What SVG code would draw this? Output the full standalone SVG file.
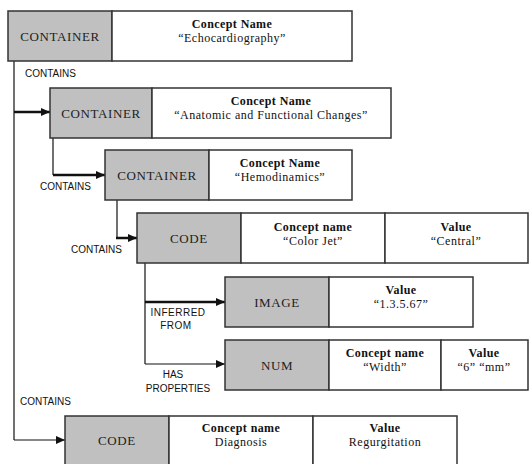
<svg xmlns="http://www.w3.org/2000/svg" width="530" height="464" viewBox="0 0 530 464">
<style>
.g{fill:#c0c0c0;stroke:#333;stroke-width:1.5}
.w{fill:#fff;stroke:#333;stroke-width:1.5}
.t{font-family:"Liberation Serif",serif;font-size:13px;fill:#222;text-anchor:middle;letter-spacing:0.6px}
.h{font-family:"Liberation Serif",serif;font-size:12px;font-weight:bold;fill:#111;text-anchor:middle;letter-spacing:0.4px}
.v{font-family:"Liberation Serif",serif;font-size:12px;fill:#111;text-anchor:middle;letter-spacing:0.5px}
.l{font-family:"Liberation Sans",Arial,sans-serif;font-size:10px;fill:#111}
.c{fill:none;stroke:#111;stroke-width:1.2}
.k{fill:none;stroke:#111;stroke-width:2.5}
</style>
<defs>
<marker id="ah" markerWidth="9" markerHeight="8" refX="9" refY="4" orient="auto" markerUnits="userSpaceOnUse">
<path d="M0,0 L9,4 L0,8 Z" fill="#111"/>
</marker>
</defs>
<g id="connectors">
<path class="c" d="M14,61 V440"/>
<path class="k" d="M14,112 H50" marker-end="url(#ah)"/>
<path class="c" d="M14,440 H65" marker-end="url(#ah)"/>
<path class="c" d="M53,138 V175"/>
<path class="k" d="M53,175 H105" marker-end="url(#ah)"/>
<path class="c" d="M117,200 V238"/>
<path class="k" d="M116,238 H137" marker-end="url(#ah)"/>
<path class="c" d="M145,263 V364"/>
<path class="k" d="M145,302 H225" marker-end="url(#ah)"/>
<path class="c" d="M145,364 H225" marker-end="url(#ah)"/>
<text class="l" x="25" y="77">CONTAINS</text>
<text class="l" x="40" y="190">CONTAINS</text>
<text class="l" x="71" y="253">CONTAINS</text>
<text class="l" x="178" y="316" text-anchor="middle" letter-spacing="0.5">INFERRED</text>
<text class="l" x="176" y="329" text-anchor="middle" letter-spacing="0.5">FROM</text>
<text class="l" x="173" y="378" text-anchor="middle">HAS</text>
<text class="l" x="178" y="392" text-anchor="middle">PROPERTIES</text>
<text class="l" x="20" y="405">CONTAINS</text>
</g>
<g id="n1">
<rect class="g" x="8" y="11" width="104" height="50"/>
<rect class="w" x="112" y="11" width="240" height="50"/>
<text class="t" x="60" y="41">CONTAINER</text>
<text class="h" x="232" y="28">Concept Name</text>
<text class="v" x="232" y="42">“Echocardiography”</text>
</g>
<g id="n2">
<rect class="g" x="50" y="88" width="102" height="50"/>
<rect class="w" x="152" y="88" width="239" height="50"/>
<text class="t" x="101" y="118">CONTAINER</text>
<text class="h" x="271" y="105">Concept Name</text>
<text class="v" x="271" y="119">“Anatomic and Functional Changes”</text>
</g>
<g id="n3">
<rect class="g" x="105" y="150" width="104" height="50"/>
<rect class="w" x="209" y="150" width="143" height="50"/>
<text class="t" x="157" y="180">CONTAINER</text>
<text class="h" x="280" y="167">Concept Name</text>
<text class="v" x="280" y="181">“Hemodinamics”</text>
</g>
<g id="n4">
<rect class="g" x="137" y="213" width="104" height="50"/>
<rect class="w" x="241" y="213" width="144" height="50"/>
<rect class="w" x="385" y="213" width="143" height="50"/>
<text class="t" x="189" y="243">CODE</text>
<text class="h" x="313" y="231">Concept name</text>
<text class="v" x="313" y="245">“Color Jet”</text>
<text class="h" x="456" y="231">Value</text>
<text class="v" x="456" y="245">“Central”</text>
</g>
<g id="n5">
<rect class="g" x="225" y="277" width="104" height="50"/>
<rect class="w" x="329" y="277" width="144" height="50"/>
<text class="t" x="277" y="307">IMAGE</text>
<text class="h" x="401" y="294">Value</text>
<text class="v" x="401" y="308">“1.3.5.67”</text>
</g>
<g id="n6">
<rect class="g" x="225" y="340" width="104" height="50"/>
<rect class="w" x="329" y="340" width="112" height="50"/>
<rect class="w" x="441" y="340" width="87" height="50"/>
<text class="t" x="277" y="370">NUM</text>
<text class="h" x="385" y="357">Concept name</text>
<text class="v" x="385" y="371">“Width”</text>
<text class="h" x="484" y="357">Value</text>
<text class="v" x="484" y="371">“6” “mm”</text>
</g>
<g id="n7">
<rect class="g" x="65" y="416" width="104" height="50"/>
<rect class="w" x="169" y="416" width="144" height="50"/>
<rect class="w" x="313" y="416" width="144" height="50"/>
<text class="t" x="117" y="445">CODE</text>
<text class="h" x="241" y="432">Concept name</text>
<text class="v" x="241" y="446">Diagnosis</text>
<text class="h" x="385" y="432">Value</text>
<text class="v" x="385" y="446">Regurgitation</text>
</g>
</svg>
